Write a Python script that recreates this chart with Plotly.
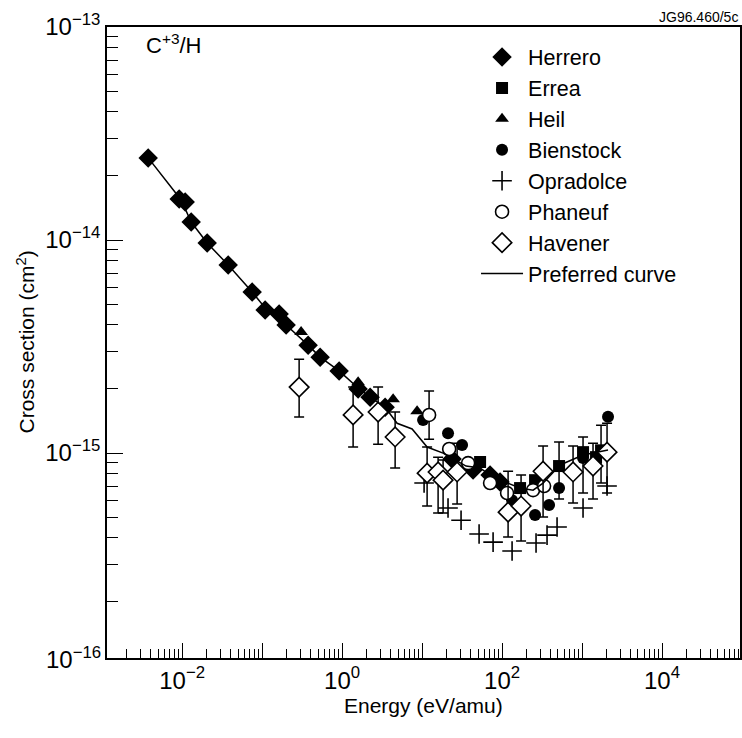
import plotly.graph_objects as go

# ---------------- data (Energy in eV/amu, cross section in cm^2) ----------------
herrero_E = [0.00376, 0.00918, 0.0109, 0.01296, 0.02054, 0.0376, 0.0750, 0.109, 0.163,
             0.1995, 0.376, 0.531, 0.917, 1.585, 2.239, 3.45, 23.7, 43.4, 70.8, 94.4]
herrero_s = [2.43e-14, 1.558e-14, 1.508e-14, 1.215e-14, 9.68e-15, 7.64e-15, 5.70e-15, 4.69e-15,
             4.50e-15, 3.99e-15, 3.21e-15, 2.82e-15, 2.43e-15, 2.00e-15, 1.83e-15, 1.64e-15,
             9.37e-16, 8.32e-16, 7.88e-16, 7.31e-16]

errea_E = [53.1, 167.9, 258.5, 515.8, 1029, 1496, 1728]
errea_s = [9.08e-16, 6.85e-16, 7.46e-16, 8.69e-16, 1.01e-15, 9.57e-16, 1.03e-15]
errea_hi = [None, None, None, 1.127e-15, 1.189e-15, None, 1.352e-15]
errea_lo = [None, None, None, 6.08e-16, 6.49e-16, None, 7.23e-16]

heil_E = [0.307, 1.585, 4.34, 8.66]
heil_s = [3.70e-15, 2.15e-15, 1.79e-15, 1.57e-15]

bienstock_E = [10.29, 21.1, 31.6, 43.4, 133.4, 258.5, 386.8, 515.8, 1029, 2113]
bienstock_s = [1.43e-15, 1.24e-15, 1.09e-15, 8.51e-16, 6.01e-16, 5.12e-16, 5.70e-16,
               6.85e-16, 9.47e-16, 1.48e-15]

opradolce_E = [10.59, 21.1, 30.7, 51.6, 77.2, 133.4, 266, 365, 487, 1029, 2054]
opradolce_s = [7.23e-16, 5.52e-16, 4.84e-16, 4.17e-16, 3.82e-16, 3.47e-16, 3.78e-16,
               4.12e-16, 4.50e-16, 5.52e-16, 7.00e-16]

phaneuf_E = [12.23, 21.8, 37.6, 70.8, 115.5, 244.1, 335]
phaneuf_s = [1.51e-15, 1.045e-15, 8.97e-16, 7.23e-16, 6.49e-16, 6.70e-16, 7.00e-16]
phaneuf_hi = [1.954e-15, None, None, None, None, None, None]
phaneuf_lo = [1.16e-15, None, None, None, None, None, None]

havener_E = [0.290, 1.372, 2.818, 4.60, 11.55, 15.85, 18.3, 27.4, 118.9, 172.8, 325.6,
             772, 1372, 2054]
havener_s = [2.04e-15, 1.51e-15, 1.558e-15, 1.19e-15, 8.05e-16, 8.15e-16, 7.46e-16,
             8.15e-16, 5.28e-16, 5.64e-16, 8.22e-16, 8.15e-16, 8.69e-16, 1.01e-15]
havener_hi = [2.76e-15, 2.04e-15, 2.04e-15, 1.558e-15, 1.067e-15, 9.57e-16, 9.27e-16,
              1.113e-15, 8.22e-16, 7.88e-16, 1.079e-15, 1.079e-15, 1.113e-15, 1.38e-15]
havener_lo = [1.476e-15, 1.067e-15, 1.10e-15, 8.51e-16, 5.64e-16, 5.23e-16, 5.23e-16,
              5.77e-16, 4.04e-16, 3.87e-16, 5.01e-16, 5.83e-16, 6.08e-16, 6.49e-16]

curve_E = [0.00376, 0.00972, 0.01296, 0.02054, 0.03758, 0.0750, 0.109, 0.163, 0.1995,
           0.376, 0.531, 0.917, 1.585, 2.239, 3.45, 4.87, 7.50, 11.55, 18.3, 35.5, 53.1,
           70.8, 94.4, 167.9, 244.1, 325.6, 530.9, 1029, 2113]
curve_s = [2.43e-14, 1.542e-14, 1.215e-14, 9.68e-15, 7.64e-15, 5.70e-15, 4.80e-15, 4.40e-15,
           3.99e-15, 3.21e-15, 2.82e-15, 2.43e-15, 2.02e-15, 1.83e-15, 1.64e-15, 1.38e-15,
           1.297e-15, 1.067e-15, 1.0e-15, 8.69e-16, 8.51e-16, 7.88e-16, 7.46e-16, 6.85e-16,
           6.70e-16, 7.23e-16, 8.79e-16, 9.79e-16, 1.033e-15]

x_major = [1e-2, 1e-1, 1e0, 1e1, 1e2, 1e3, 1e4]
x_major_text = ["10<sup>−2</sup>", "", "10<sup>0</sup>", "", "10<sup>2</sup>", "", "10<sup>4</sup>"]
y_major = [1e-13, 1e-14, 1e-15]
y_major_text = ["10<sup>−13</sup>", "10<sup>−14</sup>", "10<sup>−15</sup>"]

FONT = "Liberation Sans, Arial, sans-serif"


def errs(vals, hi, lo):
    plus = [(h - v) if h is not None else 0 for v, h in zip(vals, hi)]
    minus = [(v - l) if l is not None else 0 for v, l in zip(vals, lo)]
    return plus, minus


fig = go.Figure()

fig.add_trace(go.Scatter(x=herrero_E, y=herrero_s, mode="markers", name="Herrero",
                         marker=dict(symbol="diamond", size=15, color="black")))

ep, em = errs(errea_s, errea_hi, errea_lo)
fig.add_trace(go.Scatter(x=errea_E, y=errea_s, mode="markers", name="Errea",
                         marker=dict(symbol="square", size=12, color="black"),
                         error_y=dict(type="data", symmetric=False, array=ep, arrayminus=em,
                                      color="black", thickness=1.5, width=5)))

fig.add_trace(go.Scatter(x=heil_E, y=heil_s, mode="markers", name="Heil",
                         marker=dict(symbol="triangle-up", size=12, color="black")))

fig.add_trace(go.Scatter(x=bienstock_E, y=bienstock_s, mode="markers", name="Bienstock",
                         marker=dict(symbol="circle", size=12, color="black")))

fig.add_trace(go.Scatter(x=opradolce_E, y=opradolce_s, mode="markers", name="Opradolce",
                         marker=dict(symbol="cross-thin", size=14, color="black",
                                     line=dict(width=1.6, color="black"))))

pp, pm = errs(phaneuf_s, phaneuf_hi, phaneuf_lo)
fig.add_trace(go.Scatter(x=phaneuf_E, y=phaneuf_s, mode="markers", name="Phaneuf",
                         marker=dict(symbol="circle", size=13, color="white",
                                     line=dict(width=1.6, color="black")),
                         error_y=dict(type="data", symmetric=False, array=pp, arrayminus=pm,
                                      color="black", thickness=1.5, width=5)))

hp, hm = errs(havener_s, havener_hi, havener_lo)
fig.add_trace(go.Scatter(x=havener_E, y=havener_s, mode="markers", name="Havener",
                         marker=dict(symbol="diamond", size=15, color="white",
                                     line=dict(width=1.6, color="black")),
                         error_y=dict(type="data", symmetric=False, array=hp, arrayminus=hm,
                                      color="black", thickness=1.5, width=5)))

fig.add_trace(go.Scatter(x=curve_E, y=curve_s, mode="lines", name="Preferred curve",
                         line=dict(color="black", width=1.5)))

x_minor = [m * 10 ** d for d in range(-3, 5) for m in range(2, 10)
           if 10 ** -2.94 <= m * 10 ** d <= 10 ** 4.975]
y_minor = [m * 10 ** d for d in range(-16, -13) for m in range(2, 10)]

fig.update_layout(
    width=742, height=738,
    margin=dict(l=107, r=2, t=27, b=80, autoexpand=False),
    paper_bgcolor="white", plot_bgcolor="white",
    font=dict(family=FONT, size=20, color="black"),
    showlegend=True,
    legend=dict(x=0.583, y=0.985, xanchor="left", yanchor="top", itemsizing="trace",
                itemwidth=42, bgcolor="rgba(0,0,0,0)", font=dict(size=21.5),
                tracegroupgap=0),
    xaxis=dict(type="log", range=[-2.94, 4.975], showgrid=False, zeroline=False,
               automargin=False,
               showline=True, linecolor="black", linewidth=1.5, mirror=True,
               ticks="inside", ticklen=15, tickwidth=1.2, tickcolor="black",
               tickvals=x_major, ticktext=x_major_text, tickfont=dict(size=24),
               minor=dict(ticks="inside", ticklen=9, tickwidth=1, tickcolor="black",
                          tickvals=x_minor, showgrid=False)),
    yaxis=dict(type="log", range=[-15.962, -13], showgrid=False, zeroline=False,
               automargin=False,
               showline=True, linecolor="black", linewidth=1.5, mirror=True,
               ticks="inside", ticklen=16, tickwidth=1.2, tickcolor="black",
               tickvals=y_major, ticktext=y_major_text, tickfont=dict(size=24),
               minor=dict(ticks="inside", ticklen=11, tickwidth=1, tickcolor="black",
                          tickvals=y_minor, showgrid=False)),
    annotations=[
        dict(text="Energy (eV/amu)", xref="paper", yref="paper", x=0.5, y=0, yshift=-47,
             xanchor="center", yanchor="middle", showarrow=False, font=dict(size=21)),
        dict(text="Cross section (cm<sup>2</sup>)", xref="paper", yref="paper", x=0, xshift=-82,
             y=0.5, xanchor="center", yanchor="middle", textangle=-90, showarrow=False,
             font=dict(size=21)),
        dict(text="C<sup>+3</sup>/H", xref="paper", yref="paper", x=0.058, y=0.998,
             xanchor="left", yanchor="top", showarrow=False, font=dict(size=22)),
        dict(text="JG96.460/5c", xref="paper", yref="paper", x=1.0, y=1.0, yshift=0,
             xanchor="right", yanchor="bottom", showarrow=False, font=dict(size=14)),
        dict(text="10<sup>−16</sup>", xref="paper", yref="paper", x=0, y=0, xshift=-4,
             xanchor="right", yanchor="middle", showarrow=False, font=dict(size=24)),
    ],
)

fig.write_html("out.html", config={"displayModeBar": False},
               post_script="document.body.style.margin='0';")
